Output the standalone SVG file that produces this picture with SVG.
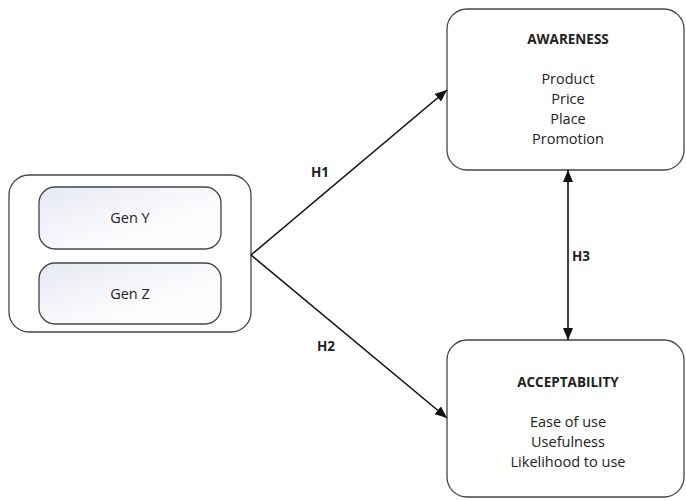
<svg xmlns="http://www.w3.org/2000/svg" width="686" height="501" viewBox="0 0 686 501">
<style>
.box{fill:#fff;stroke:#444;stroke-width:1.3}
.inner{fill:url(#g);stroke:#444;stroke-width:1.3}
.t{font-family:"Open Sans","Liberation Sans",sans-serif;font-size:14.5px;fill:#222;text-anchor:middle}
.b{font-weight:bold;font-size:13.5px}
.c{stroke:#111;stroke-width:1.6;fill:none}
</style>
<defs>
<linearGradient id="g" x1="0" y1="0" x2="1" y2="1">
<stop offset="0" stop-color="#e6e9f2"/>
<stop offset="0.6" stop-color="#fbfbfd"/>
<stop offset="1" stop-color="#ffffff"/>
</linearGradient>
<marker id="a" viewBox="0 0 12 10" refX="12" refY="5" markerWidth="12" markerHeight="10" markerUnits="userSpaceOnUse" orient="auto-start-reverse">
<path d="M0,0 L12,5 L0,10 z" fill="#111"/>
</marker>
</defs>
<g id="generations">
<rect class="box" x="9" y="175" width="242" height="157" rx="20"/>
</g>
<g id="genY">
<rect class="inner" x="39" y="187" width="182" height="62" rx="16"/>
<text class="t" x="130" y="223">Gen Y</text>
</g>
<g id="genZ">
<rect class="inner" x="39" y="263" width="182" height="61" rx="16"/>
<text class="t" x="130" y="299">Gen Z</text>
</g>
<g id="awareness">
<rect class="box" x="447" y="9" width="237" height="161" rx="20"/>
<text class="t b" x="568" y="44">AWARENESS</text>
<text class="t" x="568" y="84">Product</text>
<text class="t" x="568" y="104">Price</text>
<text class="t" x="568" y="124">Place</text>
<text class="t" x="568" y="144">Promotion</text>
</g>
<g id="acceptability">
<rect class="box" x="447" y="340" width="237" height="157" rx="20"/>
<text class="t b" x="568" y="387">ACCEPTABILITY</text>
<text class="t" x="568" y="427">Ease of use</text>
<text class="t" x="568" y="447">Usefulness</text>
<text class="t" x="568" y="467">Likelihood to use</text>
</g>
<g id="connectors">
<line class="c" x1="251" y1="255" x2="447" y2="90" marker-end="url(#a)"/>
<line class="c" x1="251" y1="255" x2="447" y2="418" marker-end="url(#a)"/>
<line class="c" x1="568" y1="170" x2="568" y2="340" marker-start="url(#a)" marker-end="url(#a)"/>
<text class="t b" x="320" y="177">H1</text>
<text class="t b" x="326" y="351">H2</text>
<text class="t b" x="581" y="261">H3</text>
</g>
</svg>
